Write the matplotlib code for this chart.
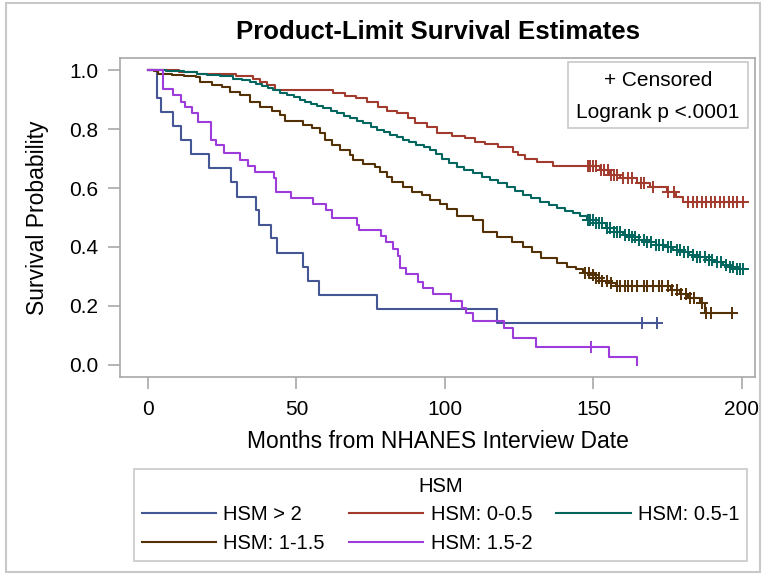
import matplotlib
matplotlib.use('Agg')
import matplotlib.pyplot as plt
from matplotlib.lines import Line2D
from matplotlib.patches import Rectangle
import numpy as np

plt.rcParams['font.family'] = ['Liberation Sans', 'DejaVu Sans']

# Kaplan-Meier step points: event time (months) and survival after it
groups = ['HSM > 2', 'HSM: 0-0.5', 'HSM: 0.5-1', 'HSM: 1-1.5', 'HSM: 1.5-2']
colors = ['#445694', '#A23A2E', '#01665E', '#543005', '#9D3CDB']

t_gt2 = [2.9, 4.3, 8.3, 11.1, 14.5, 20.5, 27.8, 29.9, 36.2, 37.3, 41.3, 43.3,
         52.1, 54.0, 57.6, 77.2, 117.4]
s_gt2 = [0.905, 0.857, 0.810, 0.762, 0.714, 0.667, 0.619, 0.571, 0.524, 0.476,
         0.429, 0.381, 0.333, 0.286, 0.238, 0.190, 0.143]
c_gt2 = [166.5, 171.5]

t_0_05 = [10.5, 16.4, 29.8, 35.5, 37.7, 40.0, 42.8, 62.4, 66.3, 70.2, 73.6, 77.5,
          80.6, 83.7, 87.6, 89.9, 93.8, 97.2, 102.2, 106.7, 110.1, 113.5, 118.0,
          123.0, 124.7, 127.0, 130.9, 136.5, 152.2, 155.5, 158.9, 164.5, 169.0,
          174.6, 177.9, 180.2]
s_0_05 = [0.994, 0.986, 0.981, 0.969, 0.960, 0.949, 0.932, 0.921, 0.913, 0.904,
          0.893, 0.876, 0.862, 0.853, 0.836, 0.819, 0.808, 0.787, 0.776, 0.768,
          0.757, 0.749, 0.738, 0.723, 0.712, 0.700, 0.689, 0.675, 0.661, 0.644,
          0.633, 0.616, 0.604, 0.588, 0.571, 0.554]
c_0_05 = [148, 149, 150, 151, 152.5, 153.5, 155, 156, 157, 158, 160, 161.5, 163,
          166, 167, 170, 175, 177, 182, 183.5, 185, 186.5, 188, 189.5, 191, 192.5,
          194, 195.5, 197, 198.5, 200.4]

t_05_1 = [6, 12, 16.4, 20, 24.2, 28.7, 31.5, 34.3, 36.5, 38.3, 40.5, 42.2, 44.5,
          46.7, 49, 51.2, 53, 55, 57, 59, 61.5, 63.5, 66, 68, 70.5, 72.5, 75, 77,
          79.5, 81.5, 84, 86, 88, 90.4, 93, 94.9, 97, 99, 101.5, 103.9, 106.5,
          109.6, 112.5, 115.2, 118, 120.8, 123.5, 126.4, 129, 132, 135, 137.6,
          140.5, 143.2, 145.5, 147.7, 151, 154.2, 157, 159.8, 162.5, 165.4, 168,
          171, 174, 176.7, 179.5, 182.3, 185, 187.9, 190.5, 193.5, 196, 198]
s_05_1 = [0.997, 0.993, 0.987, 0.984, 0.980, 0.971, 0.966, 0.959, 0.953, 0.946,
          0.939, 0.931, 0.922, 0.914, 0.907, 0.899, 0.893, 0.886, 0.878, 0.870,
          0.862, 0.853, 0.845, 0.836, 0.828, 0.819, 0.808, 0.797, 0.789, 0.780,
          0.772, 0.763, 0.755, 0.746, 0.738, 0.729, 0.716, 0.700, 0.686, 0.672,
          0.661, 0.650, 0.638, 0.627, 0.616, 0.604, 0.590, 0.576, 0.565, 0.554,
          0.542, 0.531, 0.522, 0.514, 0.505, 0.492, 0.480, 0.463, 0.452, 0.441,
          0.433, 0.424, 0.416, 0.407, 0.399, 0.390, 0.382, 0.373, 0.365, 0.356,
          0.348, 0.339, 0.331, 0.324]
c_05_1 = [148, 149, 150, 151, 152, 153, 154.5, 155.5, 157, 158, 159, 160.5, 162,
          163, 164, 165.5, 167, 168, 169.5, 171, 172, 173.5, 175, 176, 178, 179,
          180.5, 182, 183.5, 185, 186, 187.5, 189, 190, 191.5, 193, 194.5, 196,
          197, 198.5, 199.5, 200.4]

t_1_15 = [2, 3.5, 8, 12, 16.3, 17.5, 21.4, 24.8, 27.6, 31, 34.3, 37.7, 41.6, 44.4,
          46.1, 52.3, 55.1, 57.9, 59.6, 61.8, 64.6, 68, 69.1, 72.5, 76.4, 78.1,
          80.4, 82.1, 86, 88.8, 92.2, 95, 98.3, 100.6, 103.9, 109.6, 112.9, 117.4,
          122.5, 126.4, 129.2, 132.5, 137.6, 141, 144, 146.5, 148.8, 151, 153, 155,
          157.6, 176, 179, 182, 185.8, 187.5]
s_1_15 = [0.996, 0.987, 0.983, 0.980, 0.976, 0.959, 0.950, 0.942, 0.925, 0.914,
          0.892, 0.875, 0.860, 0.846, 0.826, 0.814, 0.802, 0.785, 0.763, 0.746,
          0.729, 0.712, 0.695, 0.683, 0.672, 0.655, 0.638, 0.621, 0.604, 0.588,
          0.576, 0.559, 0.546, 0.528, 0.505, 0.492, 0.452, 0.435, 0.418, 0.401,
          0.384, 0.362, 0.345, 0.333, 0.325, 0.312, 0.305, 0.295, 0.285, 0.278,
          0.268, 0.255, 0.240, 0.228, 0.209, 0.175]
c_1_15 = [147, 148.5, 150, 151, 152, 153, 154.5, 156, 158, 159, 160.5, 161.5, 163,
          164.5, 167, 168, 170, 172, 173, 175, 176.5, 178, 179.5, 181, 182.5, 184,
          186.5, 188, 189.5, 196.5]

t_15_2 = [4.9, 8.4, 11.2, 12.5, 14.7, 16.9, 21.1, 22.9, 25.6, 31, 33.8, 36, 42.4,
          43.1, 48, 55.4, 60.1, 62, 70.4, 71.1, 78.3, 80.3, 82.4, 84.3, 84.8, 86.8,
          91, 92.7, 96, 101.9, 105.6, 107, 109.3, 119.9, 123, 130.8, 155.3, 164.7]
s_15_2 = [0.935, 0.915, 0.893, 0.873, 0.853, 0.825, 0.763, 0.746, 0.718, 0.695,
          0.675, 0.655, 0.633, 0.588, 0.567, 0.545, 0.525, 0.497, 0.475, 0.458,
          0.437, 0.417, 0.392, 0.370, 0.330, 0.308, 0.282, 0.260, 0.240, 0.217,
          0.192, 0.175, 0.149, 0.124, 0.093, 0.062, 0.028, 0.0]
c_15_2 = [149.2]

series = [(t_gt2, s_gt2, c_gt2), (t_0_05, s_0_05, c_0_05), (t_05_1, s_05_1, c_05_1),
          (t_1_15, s_1_15, c_1_15), (t_15_2, s_15_2, c_15_2)]

fig = plt.figure(figsize=(7.65, 5.75), dpi=100)
ax = fig.add_axes([120 / 765, 1 - 377 / 575, 635 / 765, 319 / 575])

handles = []
for name, col, (t, s, c) in zip(groups, colors, series):
    end = max(t[-1], max(c))
    xs = [0] + list(t) + [end]
    ys = [1.0] + list(s) + [s[-1]]
    ax.step(xs, ys, where='post', color=col, lw=1.5)
    # censored marks sit on the curve value at their time
    surv = np.array([1.0] + list(s))
    idx = np.searchsorted(np.array(t), np.array(c), side='right')
    ax.plot(c, surv[idx], ls='none', marker='+', ms=8, mew=1.4, color=col)
    handles.append(Line2D([], [], color=col, lw=1.5, label=name))

ax.set_xlim(-9.43, 204.4)
ax.set_ylim(-0.0407, 1.0407)
ax.set_xticks([0, 50, 100, 150, 200])
ax.set_yticks([0.0, 0.2, 0.4, 0.6, 0.8, 1.0])
ax.set_yticklabels(['0.0', '0.2', '0.4', '0.6', '0.8', '1.0'])
for sp in ax.spines.values():
    sp.set_color('#a8a8a8')
    sp.set_linewidth(1.2)
ax.tick_params(direction='out', length=8.5, width=1.2, color='#a8a8a8',
               labelsize=15, labelcolor='black')
ax.tick_params(axis='x', pad=8)
ax.tick_params(axis='y', pad=7)

ax.set_xlabel('Months from NHANES Interview Date', fontsize=16.5)
ax.xaxis.label.set_va('center')
ax.xaxis.set_label_coords(0.5, (377 - 441) / 319)
ax.set_ylabel('Survival Probability', fontsize=16.5)
ax.yaxis.label.set_va('center')
ax.yaxis.set_label_coords((38 - 120) / 635, 0.5)

# inset box with censor key and test result
ax.add_patch(Rectangle(((568 - 120) / 635, (377 - 128) / 319), 180 / 635, 66 / 319,
                       transform=ax.transAxes, fc='white', ec='#c8c8c8', lw=1.2,
                       zorder=4))
ax.text((658 - 120) / 635, (377 - 80) / 319, '+ Censored', transform=ax.transAxes,
        ha='center', va='center', fontsize=15, zorder=5)
ax.text((658 - 120) / 635, (377 - 113) / 319, 'Logrank p <.0001', transform=ax.transAxes,
        ha='center', va='center', fontsize=15, zorder=5)

fig.text(437.5 / 765, 1 - 32 / 575, 'Product-Limit Survival Estimates',
         ha='center', va='center', fontsize=18.5, fontweight='bold')

# row-major order for a 3-column legend
order = [0, 3, 1, 4, 2]
leg = fig.legend([handles[i] for i in order], [groups[i] for i in order],
                 ncol=3, title='HSM', loc='center',
                 bbox_to_anchor=(440.5 / 765, 1 - 515 / 575),
                 fontsize=14.5, title_fontsize=14.5, frameon=True, fancybox=False,
                 edgecolor='#c8c8c8', framealpha=1, handlelength=3.7,
                 handletextpad=0.35, columnspacing=1.2, labelspacing=0.45,
                 borderpad=0.4)
leg.get_frame().set_linewidth(1.2)

fig.patches.append(Rectangle((0.008, 0.006), 0.986, 0.988, transform=fig.transFigure,
                             fill=False, ec='#c8c8c8', lw=1.5))

fig.savefig('out.png', dpi=100)
